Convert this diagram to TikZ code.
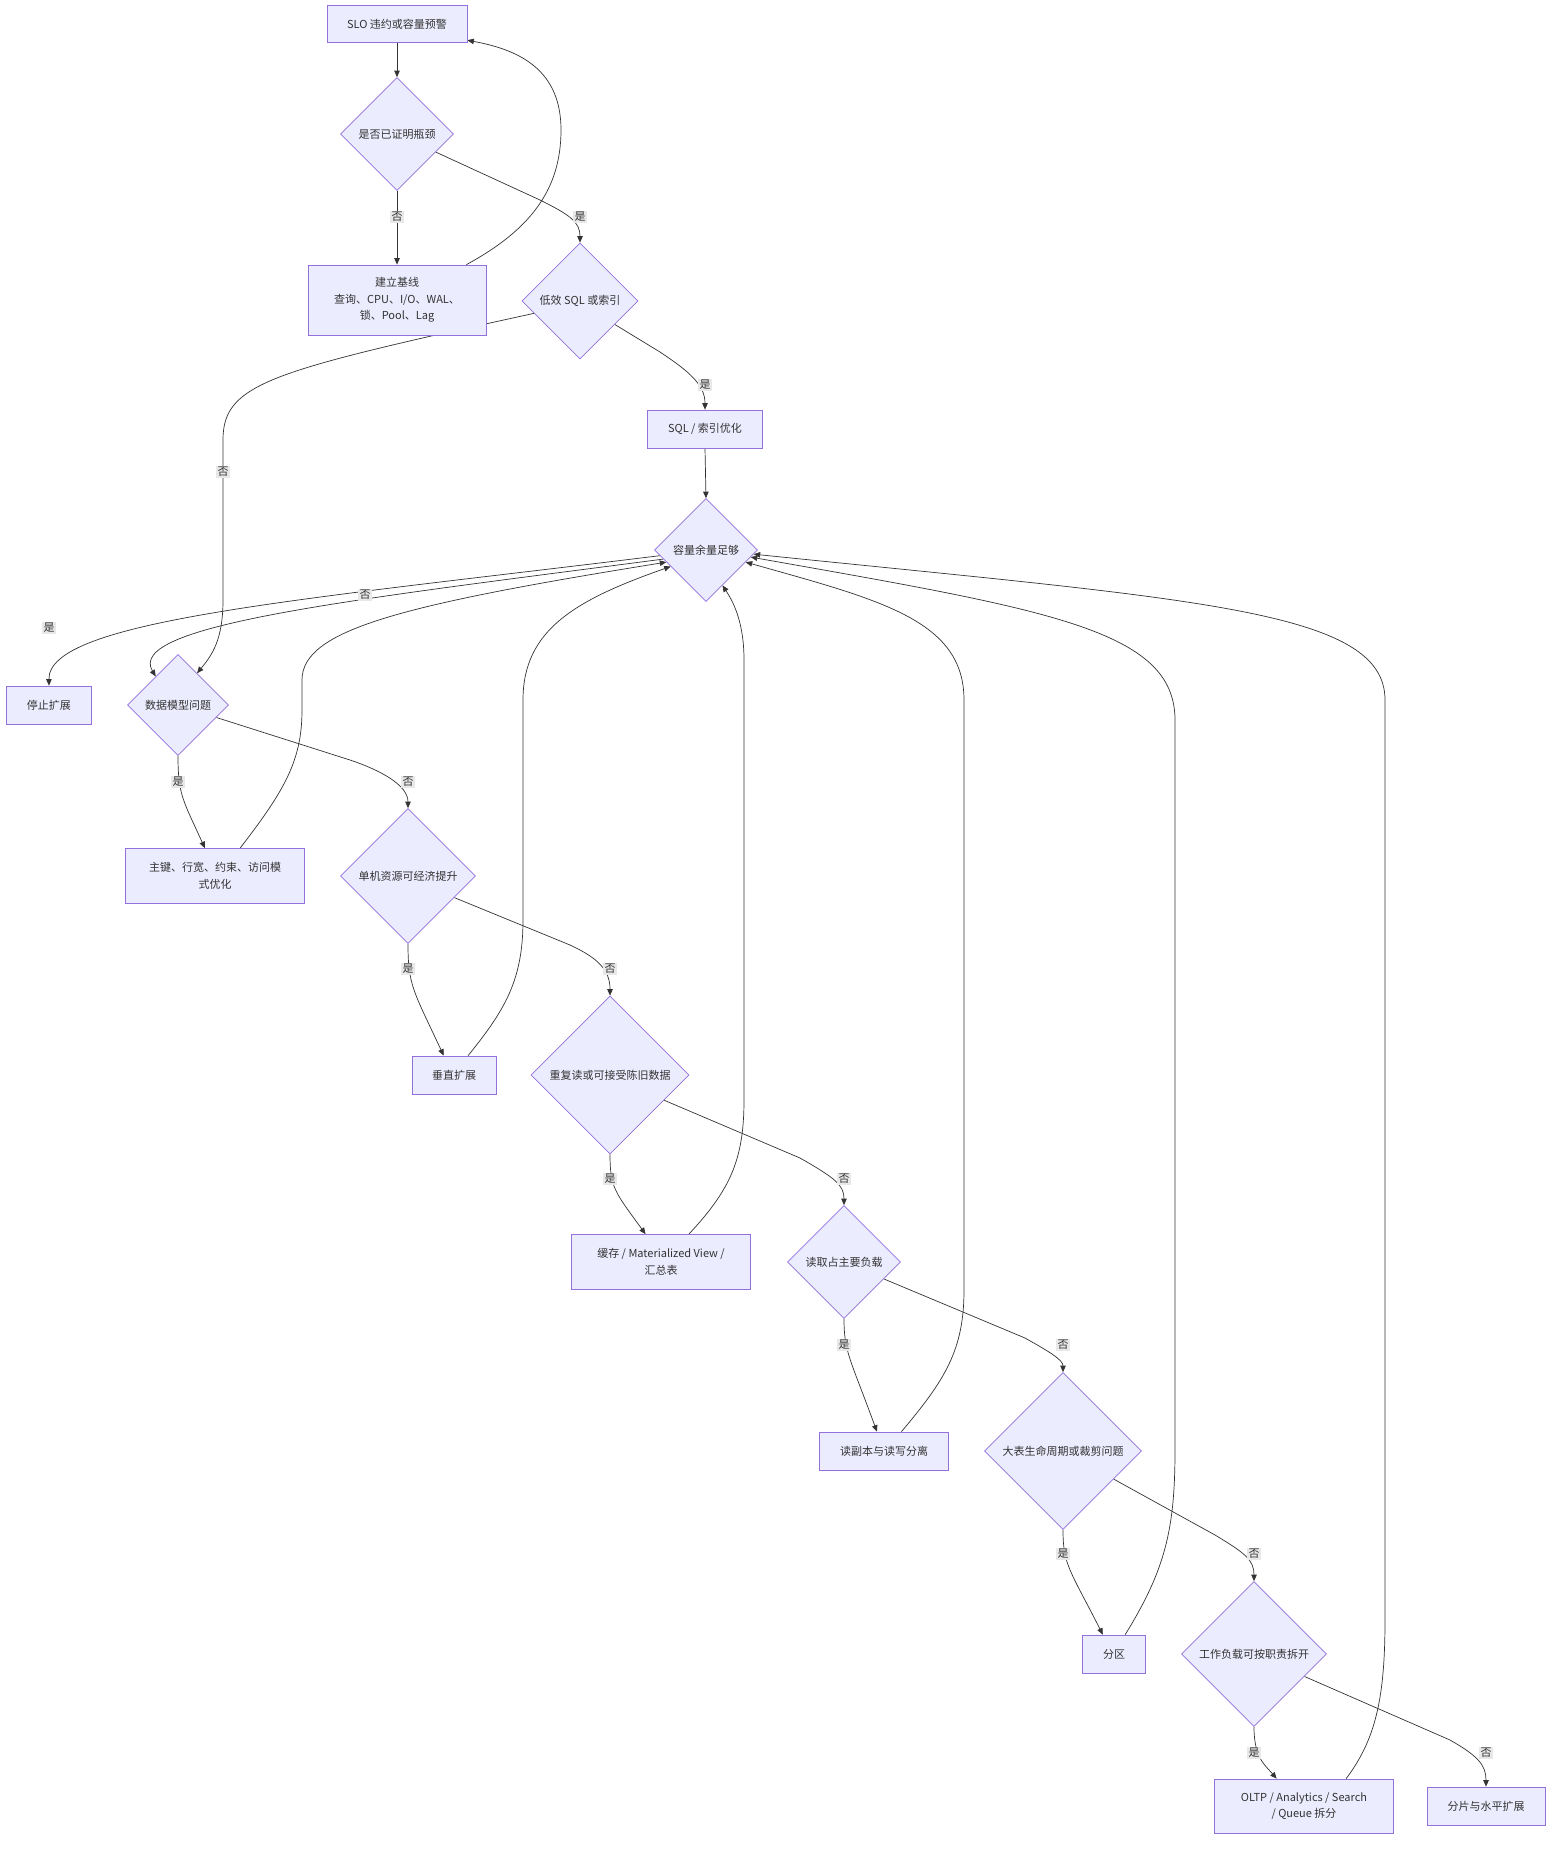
\documentclass[tikz,border=0pt]{standalone}
\usepackage{fontspec}
\setmainfont{Noto Sans CJK SC}
\usetikzlibrary{shapes.geometric,arrows.meta}
\definecolor{nfill}{HTML}{ECECFF}
\definecolor{nline}{HTML}{9370DB}
\definecolor{eline}{HTML}{333333}
\definecolor{lbg}{HTML}{E8E8E8}
\pgfdeclarelayer{bg}
\pgfsetlayers{bg,main}
\tikzset{
  nodebase/.style={fill=nfill,draw=nline,line width=0.7pt,text=eline,align=center,
    font=\fontsize{11}{16.5}\selectfont},
  box/.style={nodebase,rectangle,inner sep=0pt},
  dec/.style={nodebase,diamond,inner sep=0pt},
  conn/.style={draw=eline,line width=0.7pt,-{Triangle[length=6.5pt,width=5.5pt]}},
  lab/.style={fill=lbg,text=eline,inner sep=1.5pt,font=\fontsize{11}{13}\selectfont},
}
\begin{document}
\begin{tikzpicture}[x=1pt,y=-1pt]
\useasboundingbox (0,0) rectangle (1568,1858);
% nodes
\node[box,minimum width=140pt,minimum height=37pt] (slo) at (397,24) {SLO 违约或容量预警};
\node[dec,minimum width=113pt,minimum height=113pt] (q1) at (397,134) {是否已证明瓶颈};
\node[box,minimum width=178pt,minimum height=70pt] (base) at (397,300) {建立基线\\查询、CPU、I/O、WAL、\\锁、Pool、Lag};
\node[dec,minimum width=116pt,minimum height=116pt] (q2) at (580,301) {低效 SQL 或索引};
\node[box,minimum width=115pt,minimum height=38pt] (sql) at (705,429) {SQL / 索引优化};
\node[dec,minimum width=103pt,minimum height=103pt] (cap) at (706,550) {容量余量足够};
\node[box,minimum width=85pt,minimum height=38pt] (stop) at (49,705) {停止扩展};
\node[dec,minimum width=101pt,minimum height=101pt] (dm) at (178,705) {数据模型问题};
\node[box,minimum width=179pt,minimum height=55pt] (pk) at (215,876) {主键、行宽、约束、访问模\\式优化};
\node[dec,minimum width=135pt,minimum height=135pt] (sm) at (408,876) {单机资源可经济提升};
\node[box,minimum width=84pt,minimum height=38pt] (vs) at (454,1075) {垂直扩展};
\node[dec,minimum width=158pt,minimum height=158pt] (rr) at (610,1075) {重复读或可接受陈旧数据};
\node[box,minimum width=179pt,minimum height=55pt] (cache) at (661,1262) {缓存 / Materialized View /\\汇总表};
\node[dec,minimum width=113pt,minimum height=113pt] (rd) at (844,1262) {读取占主要负载};
\node[box,minimum width=129pt,minimum height=38pt] (rp) at (884,1451) {读副本与读写分离};
\node[dec,minimum width=157pt,minimum height=157pt] (bt) at (1063,1451) {大表生命周期或裁剪问题};
\node[box,minimum width=63pt,minimum height=38pt] (pq) at (1114,1654) {分区};
\node[dec,minimum width=145pt,minimum height=145pt] (wl) at (1254,1654) {工作负载可按职责拆开};
\node[box,minimum width=179pt,minimum height=54pt] (ol) at (1304,1806) {OLTP / Analytics / Search\\/ Queue 拆分};
\node[box,minimum width=118pt,minimum height=38pt] (sh) at (1486,1806) {分片与水平扩展};
% connectors
\begin{pgfonlayer}{bg}
\fill[white] (0,0) rectangle (1568,1858);
\draw[conn] (slo.south) -- (q1.north);
\draw[conn] (q1.south) -- (base.north);
\draw[conn] (q1.-25) -- (540,200) .. controls (570,215) and (580,222) .. (q2.north);
\draw[conn] (base.27) .. controls (530,230) and (561,190) .. (561,130) .. controls (561,70) and (520,50) .. (slo.-13);
\draw[conn] (q2.-165) -- (440,334) .. controls (260,375) and (223,390) .. (223,440) -- (223,600) .. controls (223,640) and (212,655) .. (dm.59);
\draw[conn] (q2.-34) -- (660,352) .. controls (690,372) and (705,385) .. (sql.north);
\draw[conn] (sql.south) -- (cap.north);
\draw[conn] (cap.-173) .. controls (300,600) and (48,620) .. (stop.north);
\draw[conn] (cap.-168) .. controls (350,600) and (125,625) .. (dm.128);
\draw[conn] (dm.south) .. controls (178,795) and (183,800) .. (pk.110);
\draw[conn] (dm.-18) -- (350,760) .. controls (380,770) and (408,785) .. (sm.north);
\draw[conn] (pk.48) .. controls (285,790) and (302,760) .. (302,710) -- (302,680) .. controls (302,630) and (400,605) .. (cap.-163);
\draw[conn] (sm.south) .. controls (408,985) and (413,990) .. (vs.118);
\draw[conn] (sm.-25) -- (570,945) .. controls (598,958) and (610,970) .. (rr.north);
\draw[conn] (vs.54) .. controls (505,1010) and (523,980) .. (523,920) -- (523,700) .. controls (523,630) and (575,600) .. (cap.-155);
\draw[conn] (rr.south) .. controls (610,1188) and (615,1192) .. (cache.119);
\draw[conn] (rr.-25) -- (800,1158) .. controls (835,1178) and (844,1185) .. (rd.north);
\draw[conn] (cache.45) .. controls (730,1190) and (744,1160) .. (744,1100) -- (744,660) .. controls (744,620) and (732,600) .. (cap.-65);
\draw[conn] (rd.south) .. controls (844,1352) and (850,1358) .. (rp.110);
\draw[conn] (rd.-23) -- (1025,1338) .. controls (1050,1352) and (1063,1360) .. (bt.north);
\draw[conn] (rp.48) .. controls (945,1380) and (964,1350) .. (964,1290) -- (964,700) .. controls (964,620) and (880,600) .. (cap.-17);
\draw[conn] (bt.south) .. controls (1063,1565) and (1070,1570) .. (pq.120);
\draw[conn] (bt.-29) -- (1215,1535) .. controls (1245,1553) and (1254,1560) .. (wl.north);
\draw[conn] (pq.60) .. controls (1165,1570) and (1175,1530) .. (1175,1450) -- (1175,720) .. controls (1175,630) and (1050,610) .. (cap.-9);
\draw[conn] (wl.south) .. controls (1254,1758) and (1265,1765) .. (ol.135);
\draw[conn] (wl.-24) -- (1450,1740) .. controls (1478,1756) and (1486,1765) .. (sh.north);
\draw[conn] (ol.33) .. controls (1375,1740) and (1385,1700) .. (1385,1620) -- (1385,700) .. controls (1385,610) and (1200,600) .. (cap.-5);
% labels
\node[lab] (l1) at (397,217) {否};
\node[lab] (l2) at (580,217) {是};
\node[lab] (l3) at (223,472) {否};
\node[lab] (l4) at (705,385) {是};
\node[lab] (l5) at (49,628) {是};
\node[lab] (l6) at (365,595) {否};
\node[lab] (l7) at (178,782) {是};
\node[lab] (l8) at (408,782) {否};
\node[lab] (l9) at (408,969) {是};
\node[lab] (l10) at (610,969) {否};
\node[lab] (l11) at (610,1179) {是};
\node[lab] (l12) at (844,1179) {否};
\node[lab] (l13) at (844,1345) {是};
\node[lab] (l14) at (1063,1345) {否};
\node[lab] (l15) at (1063,1554) {是};
\node[lab] (l16) at (1254,1554) {否};
\node[lab] (l17) at (1254,1753) {是};
\node[lab] (l18) at (1486,1753) {否};
\end{pgfonlayer}
\end{tikzpicture}
\end{document}
